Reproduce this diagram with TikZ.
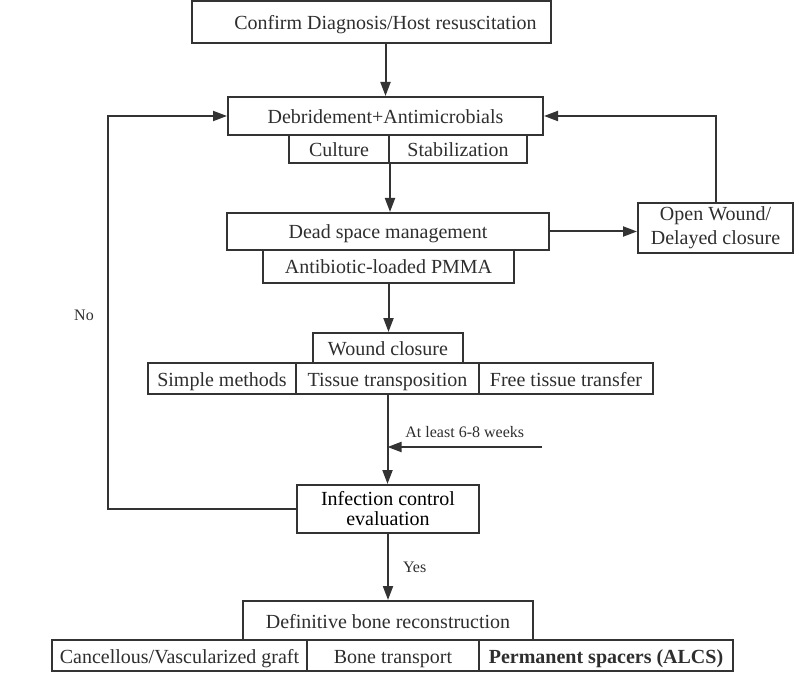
\documentclass[tikz,border=0pt]{standalone}
\usepackage{fontspec}
\setmainfont{Liberation Serif}
\usepackage{tikz}
\usetikzlibrary{positioning, arrows.meta}
\definecolor{linegray}{HTML}{333333}
\definecolor{textgray}{HTML}{2E2E2E}

\begin{document}
\begin{tikzpicture}[
    x=0.5pt, y=-0.5pt,
    box/.style={
        rectangle, draw=linegray, line width=1pt,
        inner sep=0pt, align=center, text=textgray,
        font=\fontsize{10}{12}\selectfont
    },
    cell/.style={box, text height=8.5pt, text depth=1pt},
    note/.style={text=textgray, inner sep=1pt, font=\fontsize{8}{10}\selectfont},
    arrow/.style={-{Triangle[length=7pt,width=5pt]}, line width=1pt, draw=linegray}
]
\useasboundingbox (0,0) rectangle (795,683);

% Top: diagnosis and first debridement
\node[cell, minimum width=179.5pt, minimum height=21pt] (confirm) at (371.5,22) {\hspace*{14pt}Confirm Diagnosis/Host resuscitation};
\node[cell, minimum width=157.5pt, minimum height=19pt] (debr) at (385.5,116) {Debridement+Antimicrobials};
\node[cell, minimum width=50pt, minimum height=14pt] (culture) at (339,149) {Culture};
\node[cell, minimum width=69pt, minimum height=14pt] (stab) at (458,149) {Stabilization};

% Dead space and open wound
\node[cell, minimum width=161pt, minimum height=18.5pt] (dead) at (388,231.5) {Dead space management};
\node[cell, minimum width=125.5pt, minimum height=16.5pt] (pmma) at (388.5,266.5) {Antibiotic-loaded PMMA};
\node[box, minimum width=77.5pt, minimum height=25pt] (open) at (715.5,228) {Open Wound/\\Delayed closure};

% Wound closure row
\node[cell, minimum width=75pt, minimum height=15pt] (closure) at (388,348) {Wound closure};
\node[cell, minimum width=74pt, minimum height=15.5pt] (simple) at (222,378.5) {Simple methods};
\node[cell, minimum width=91.5pt, minimum height=15.5pt] (transpo) at (387.5,378.5) {Tissue transposition};
\node[cell, minimum width=87pt, minimum height=15.5pt] (free) at (566,378.5) {Free tissue transfer};

% Evaluation
\node[box, minimum width=91pt, minimum height=24pt, text=black, font=\fontsize{10}{10}\selectfont] (infect) at (388,509) {Infection control\\evaluation};

% Bottom: reconstruction options
\node[cell, minimum width=145pt, minimum height=19.5pt] (recon) at (388,620.5) {Definitive bone reconstruction};
\node[cell, minimum width=127.5pt, minimum height=15.5pt] (graft) at (179.5,655.5) {Cancellous/Vascularized graft};
\node[cell, minimum width=86pt, minimum height=15.5pt] (transport) at (393,655.5) {Bone transport};
\node[cell, minimum width=127pt, minimum height=15.5pt] (spacer) at (606,655.5) {\textbf{Permanent spacers (ALCS)}};

% Main vertical flow
\draw[arrow] (confirm.south -| debr.north) -- (debr.north);
\draw[arrow] (culture.south east) -- (culture.south east |- dead.north);
\draw[arrow] (pmma.south) -- (pmma.south |- closure.north);
\draw[arrow] (transpo.south) -- (transpo.south |- infect.north);
\draw[arrow] (infect.south) -- node[note, right=6pt] (yes) {Yes} (recon.north);

% Open wound loop back to debridement
\draw[arrow] (dead.east) -- (dead.east -| open.west);
\draw[arrow] (open.north) |- (debr.east);

% Waiting time joins the flow
\coordinate (wait) at (542,447);
\draw[arrow] (wait) -- node[note, above=3pt] (weeks) {At least 6-8 weeks} (wait -| transpo.south);

% Failed control goes back to debridement
\coordinate (noturn) at (108,509);
\draw[arrow] (infect.west) -- (noturn) |- (debr.west);
\node[note] (no) at (84,315) {No};

\end{tikzpicture}
\end{document}
